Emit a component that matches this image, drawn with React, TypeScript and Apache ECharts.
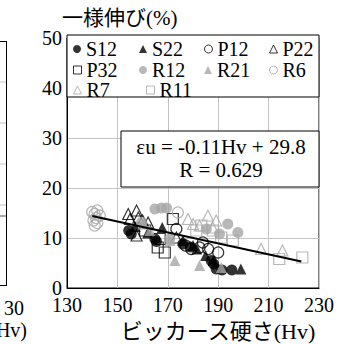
import React, { useEffect, useRef } from "react";
import * as echarts from "echarts";

const xTicks = [130, 150, 170, 190, 210, 230];
const yTicks = [0, 10, 20, 30, 40, 50];

const s12 = [[154.5, 11.5], [155.5, 10.8], [164.9, 9.8], [165.5, 9.3], [176, 8.8], [179, 8.2], [187.2, 5.5], [188.2, 4.8], [189.2, 3.8], [191.5, 3.6], [195.4, 3.6]];
const s22 = [[157, 12.3], [167.8, 12.1], [176, 9.5], [180, 8.5], [181.5, 7.8], [185, 6.5], [188, 5.5], [199, 3.8], [162, 11]];
const p12 = [[173.4, 11.8], [179.3, 7.8], [182.6, 8.1], [183.9, 9.1], [186, 7.8], [190, 7.1], [177, 8.5]];
const p22 = [[154.3, 14.8], [155, 13.8], [157.6, 15.5], [158.3, 14.1], [162.2, 13.1], [157.6, 10.5], [160, 13.5], [173.4, 10.1]];
const p32 = [[161, 11.5], [166, 8.1], [168.8, 7.1], [172, 13.8], [166.8, 9.8]];
const r12 = [[164.9, 15.8], [167.5, 16], [169.5, 16], [193.8, 12.8], [197.8, 11.1], [190.5, 10.8], [185.3, 11.8], [159.6, 13.1], [170.8, 9.8]];
const r21 = [[172.8, 5.5], [182.6, 4.5], [191.2, 4.1], [160.3, 12.8], [170.8, 9.5], [162.9, 11.5]];
const r6 = [[140, 15.2], [141, 14.8], [141.5, 14], [140.5, 13.5], [142, 13], [141, 12.5], [143, 14.5], [142, 15.5], [174, 15.1]];
const r7 = [[178, 13.8], [185.9, 14.5], [189.2, 13.5], [207, 7.8], [215.5, 7.5], [180, 12.8], [182.6, 12.5], [187.8, 12.1]];
const r11 = [[223.4, 6.1], [214.2, 5.8], [195.8, 9.5], [191.2, 10.1], [181.3, 11.5], [187.9, 11.5], [183.3, 12.5]];
const trend = [[140, 14.4], [223, 5.3]];

const seriesNames = ["S12", "S22", "P12", "P22", "P32", "R12", "R21", "R6", "R7", "R11"];

const FONT = '"Times New Roman", "Liberation Serif", serif';
const CJK = '"Times New Roman", "Liberation Serif", "Noto Sans CJK JP", serif';
const BLACK = "#000000";
const GRAY = "#a6a6a6";

export default function App() {
  const ref = useRef<HTMLDivElement>(null);
  useEffect(() => {
    document.body.style.margin = "0";
    const chart = echarts.init(ref.current!, null, { renderer: "svg" });
    const mk = (name: string, data: number[][], symbol: string, color: string, filled: boolean) => ({
      name,
      type: "scatter",
      data,
      symbol,
      symbolSize: 11,
      itemStyle: filled
        ? { color, borderWidth: 0 }
        : { color: "rgba(0,0,0,0)", borderColor: color, borderWidth: 1.2 },
      z: 2,
    });
    const series: any[] = [
      mk("S12", s12, "circle", BLACK, true),
      mk("S22", s22, "triangle", BLACK, true),
      mk("P12", p12, "circle", BLACK, false),
      mk("P22", p22, "triangle", BLACK, false),
      mk("P32", p32, "rect", BLACK, false),
      mk("R12", r12, "circle", GRAY, true),
      mk("R21", r21, "triangle", GRAY, true),
      mk("R6", r6, "circle", GRAY, false),
      mk("R7", r7, "triangle", GRAY, false),
      mk("R11", r11, "rect", GRAY, false),
      {
        name: "trend",
        type: "line",
        data: trend,
        showSymbol: false,
        lineStyle: { color: BLACK, width: 2 },
        z: 5,
      },
    ];
    const colLeft = [73, 139, 204, 269];
    const rowTop = [39, 60, 80];
    const legends = seriesNames.map((n, i) => ({
      data: [{ name: n, itemStyle: i % 5 >= 2 ? { borderWidth: 1 } : {} }],
      left: i === 9 ? 146 : colLeft[i % 4],
      top: rowTop[Math.floor(i / 4)],
      padding: 0,
      itemWidth: 8,
      itemHeight: 8,
      itemGap: 0,
      z: 6,
      textStyle: { fontFamily: FONT, fontSize: 20, color: BLACK, lineHeight: 19 },
    }));
    chart.setOption({
      animation: false,
      textStyle: { fontFamily: FONT },
      grid: { left: 67, right: 33, top: 38, bottom: 56, show: true, borderColor: BLACK, borderWidth: 1, backgroundColor: "#fff" },
      xAxis: {
        type: "value",
        min: xTicks[0],
        max: xTicks[xTicks.length - 1],
        interval: 20,
        axisLine: { lineStyle: { color: BLACK } },
        axisTick: { show: false },
        splitLine: { lineStyle: { color: "#c4c4c4" } },
        axisLabel: { fontFamily: FONT, fontSize: 20, color: BLACK, margin: 7 },
      },
      yAxis: {
        type: "value",
        min: yTicks[0],
        max: yTicks[yTicks.length - 1],
        interval: 10,
        axisLine: { lineStyle: { color: BLACK } },
        axisTick: { show: false },
        splitLine: { lineStyle: { color: "#c4c4c4" } },
        axisLabel: { fontFamily: FONT, fontSize: 20, color: BLACK, margin: 5 },
      },
      legend: legends,
      series,
      graphic: [
        { type: "rect", shape: { x: 67, y: 35, width: 252, height: 62 }, style: { fill: "#fff", stroke: BLACK, lineWidth: 1 }, z: 3 },
        { type: "rect", shape: { x: 121, y: 131, width: 198, height: 56 }, style: { fill: "#fff", stroke: BLACK, lineWidth: 1 }, z: 3 },
        { type: "text", x: 221, y: 147, style: { text: "εu = -0.11Hv + 29.8", fontFamily: FONT, fontSize: 21, fill: BLACK, align: "center", verticalAlign: "middle" }, z: 4 },
        { type: "text", x: 221, y: 170, style: { text: "R = 0.629", fontFamily: FONT, fontSize: 21, fill: BLACK, align: "center", verticalAlign: "middle" }, z: 4 },
        { type: "text", x: 62, y: 18, style: { text: "一様伸び(%)", fontFamily: CJK, fontSize: 21, fill: BLACK, align: "left", verticalAlign: "middle" }, z: 4 },
        { type: "text", x: 218, y: 331, style: { text: "ビッカース硬さ(Hv)", fontFamily: CJK, fontSize: 22, fill: BLACK, align: "center", verticalAlign: "middle" }, z: 4 },
        // clipped neighbouring chart at the left edge
        { type: "line", shape: { x1: 6.5, y1: 41, x2: 6.5, y2: 286 }, style: { stroke: BLACK, lineWidth: 1 } },
        { type: "line", shape: { x1: 0, y1: 41.5, x2: 6.5, y2: 41.5 }, style: { stroke: BLACK, lineWidth: 1 } },
        { type: "line", shape: { x1: 0, y1: 285.5, x2: 6.5, y2: 285.5 }, style: { stroke: BLACK, lineWidth: 1 } },
        { type: "line", shape: { x1: 0, y1: 82, x2: 6, y2: 82 }, style: { stroke: "#c4c4c4", lineWidth: 1 } },
        { type: "line", shape: { x1: 0, y1: 123, x2: 6, y2: 123 }, style: { stroke: "#c4c4c4", lineWidth: 1 } },
        { type: "line", shape: { x1: 0, y1: 164, x2: 6, y2: 164 }, style: { stroke: "#c4c4c4", lineWidth: 1 } },
        { type: "line", shape: { x1: 0, y1: 205, x2: 6, y2: 205 }, style: { stroke: "#c4c4c4", lineWidth: 1 } },
        { type: "line", shape: { x1: 0, y1: 216, x2: 6, y2: 216 }, style: { stroke: "#555", lineWidth: 1 } },
        { type: "text", x: 24, y: 308, style: { text: "30", fontFamily: FONT, fontSize: 20, fill: BLACK, align: "right", verticalAlign: "middle" } },
        { type: "text", x: 27, y: 330, style: { text: "Hv)", fontFamily: FONT, fontSize: 20, fill: BLACK, align: "right", verticalAlign: "middle" } },
      ],
    });
    return () => chart.dispose();
  }, []);
  return <div ref={ref} style={{ width: 352, height: 344 }} />;
}
